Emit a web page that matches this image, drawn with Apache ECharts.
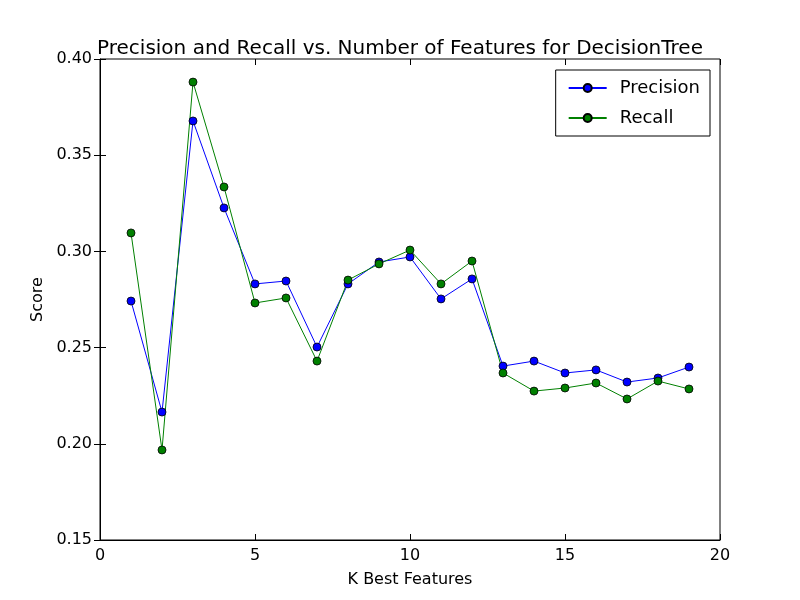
<!DOCTYPE html>
<html>
<head>
<meta charset="utf-8">
<script src="https://cdn.jsdelivr.net/npm/echarts@6/dist/echarts.min.js"></script>
<style>html,body{margin:0;padding:0;background:#fff;}#main{width:800px;height:600px;}</style>
</head>
<body>
<div id="main"></div>
<script>
var kValues = [1,2,3,4,5,6,7,8,9,10,11,12,13,14,15,16,17,18,19];
var precision = [0.2742,0.2165,0.3678,0.3226,0.2831,0.2846,0.2503,0.2831,0.2945,0.2971,0.2753,0.2857,0.2404,0.2430,0.2368,0.2384,0.2321,0.2342,0.2399];
var recall = [0.3096,0.1968,0.3880,0.3335,0.2732,0.2758,0.2430,0.2851,0.2935,0.3007,0.2831,0.2950,0.2368,0.2274,0.2290,0.2316,0.2233,0.2326,0.2285];

var pair = function(ys) {
	return kValues.map(function(k, i) { return [k, ys[i]]; });
};
var font = 'DejaVu Sans';
var tick = { show: true, inside: true, length: 6, lineStyle: { color: '#000' } };

var myChart = echarts.init(document.getElementById('main'));
var option = {
	animation: false,
	textStyle: { fontFamily: font },
	title: {
		text: 'Precision and Recall vs. Number of Features for DecisionTree',
		left: 'center', top: 34,
		textStyle: { fontFamily: font, fontSize: 20, fontWeight: 'normal', color: '#000' }
	},
	grid: { left: 100, right: 80, top: 59, bottom: 60, show: true, borderColor: '#000', borderWidth: 1 },
	legend: {
		right: 90, top: 70, orient: 'vertical',
		borderColor: '#000', borderWidth: 1, borderRadius: 0,
		padding: [9, 10, 9, 12], itemGap: 12, itemWidth: 38, itemHeight: 10,
		textStyle: { fontFamily: font, fontSize: 18, color: '#000', padding: [0, 0, 0, 8] },
		data: ['Precision', 'Recall']
	},
	xAxis: [{
		type: 'value', min: 0, max: 20, interval: 5,
		name: 'K Best Features', nameLocation: 'middle', nameGap: 32,
		nameTextStyle: { fontSize: 16, color: '#000' },
		axisLine: { show: true, lineStyle: { color: '#000' } },
		axisTick: tick, splitLine: { show: false },
		axisLabel: { color: '#000', fontSize: 16, margin: 8 }
	}, {
		type: 'value', position: 'top', min: 0, max: 20, interval: 5,
		axisLine: { show: false }, axisTick: tick, axisLabel: { show: false }, splitLine: { show: false }
	}],
	yAxis: [{
		type: 'value', min: 0.15, max: 0.40, interval: 0.05,
		name: 'Score', nameLocation: 'middle', nameGap: 54,
		nameTextStyle: { fontSize: 16, color: '#000' },
		axisLine: { show: true, lineStyle: { color: '#000' } },
		axisTick: tick, splitLine: { show: false },
		axisLabel: { color: '#000', fontSize: 16, margin: 8, formatter: function(v) { return v.toFixed(2); } }
	}, {
		type: 'value', position: 'right', min: 0.15, max: 0.40, interval: 0.05,
		axisLine: { show: false }, axisTick: tick, axisLabel: { show: false }, splitLine: { show: false }
	}],
	series: [{
		name: 'Precision', type: 'line', data: pair(precision),
		symbol: 'circle', symbolSize: 8,
		lineStyle: { color: '#0000ff', width: 1 },
		itemStyle: { color: '#0000ff', borderColor: '#000', borderWidth: 0.8 }
	}, {
		name: 'Recall', type: 'line', data: pair(recall),
		symbol: 'circle', symbolSize: 8,
		lineStyle: { color: '#008000', width: 1 },
		itemStyle: { color: '#008000', borderColor: '#000', borderWidth: 0.8 }
	}]
};
myChart.setOption(option);
</script>
</body>
</html>
